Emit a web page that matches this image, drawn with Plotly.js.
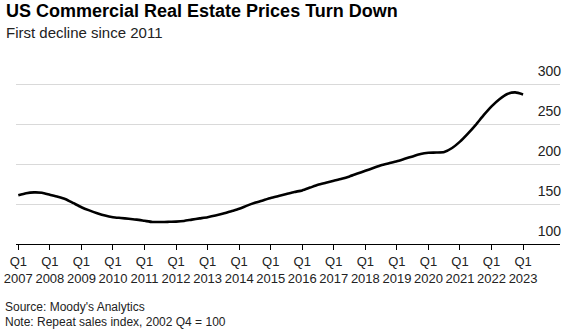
<!DOCTYPE html>
<html>
<head>
<meta charset="utf-8">
<script src="https://cdn.plot.ly/plotly-3.0.1.min.js"></script>
<style>
html,body{margin:0;padding:0;background:#fff;}
#chart{width:568px;height:332px;}
</style>
</head>
<body>
<div id="chart"></div>
<script>
// Quarterly repeat-sales index, 2007 Q1 .. 2023 Q1 (2002 Q4 = 100)
const startYear = 2007;
const priceIndex = [
  161, 163.5, 164.5, 164,        // 2007
  161.5, 159, 156, 151,          // 2008
  146, 142, 138.5, 135.5,        // 2009
  133.5, 132.5, 131.5, 130.5,    // 2010
  129, 127.5, 127.5, 127.7,      // 2011
  128, 128.8, 130.5, 132,        // 2012
  133.5, 135.5, 138, 141,        // 2013
  144, 148, 151.5, 154.5,        // 2014
  157.5, 160, 162.5, 165,        // 2015
  167, 170.5, 174, 176.5,        // 2016
  179, 181.5, 184.5, 188,        // 2017
  191.5, 195, 198.5, 201,        // 2018
  203.5, 206.5, 209.5, 212.5,    // 2019
  214, 214.3, 215, 220,          // 2020
  228, 238, 249, 261,            // 2021
  272, 281, 287.5, 289.5,        // 2022
  287                            // 2023 Q1
];
const tickYears = [2007,2008,2009,2010,2011,2012,2013,2014,2015,2016,2017,2018,2019,2020,2021,2022,2023];
const tickLabels = tickYears.map(y => 'Q1<br>' + y);
const yTicks = [100, 150, 200, 250, 300];

const xs = priceIndex.map((v, i) => startYear + i / 4);

const font = 'Liberation Sans, Arial, Helvetica, sans-serif';

const trace = {
  x: xs,
  y: priceIndex,
  type: 'scatter',
  mode: 'lines',
  line: {color: '#000', width: 2.6, shape: 'spline', smoothing: 0.6},
  hoverinfo: 'skip'
};

const layout = {
  width: 568,
  height: 332,
  margin: {l: 16, r: 8, t: 68, b: 88},
  paper_bgcolor: '#fff',
  plot_bgcolor: '#fff',
  showlegend: false,
  font: {family: font, color: '#222', size: 13},
  xaxis: {
    range: [2006.927, 2024.17],
    tickvals: tickYears,
    ticktext: tickLabels,
    ticks: 'outside',
    ticklen: 5,
    tickwidth: 1,
    tickcolor: '#000',
    showline: true,
    linecolor: '#000',
    linewidth: 1,
    showgrid: false,
    zeroline: false,
    tickfont: {family: font, size: 13, color: '#222'},
    fixedrange: true
  },
  yaxis: {
    range: [100, 320],
    side: 'right',
    tickvals: yTicks,
    ticklabelposition: 'inside top',
    ticklabeloverflow: 'allow',
    ticklabelshift: -3,
    ticklabelstandoff: -4,
    showgrid: true,
    gridcolor: '#d9d9d9',
    gridwidth: 1,
    zeroline: false,
    showline: false,
    ticks: '',
    tickfont: {family: font, size: 14, color: '#222'},
    fixedrange: true
  },
  annotations: [
    {text: '<b>US Commercial Real Estate Prices Turn Down</b>', xref: 'paper', yref: 'paper',
     x: -0.022, y: 1.324, xanchor: 'left', yanchor: 'middle', showarrow: false,
     font: {family: font, size: 18, color: '#000'}},
    {text: 'First decline since 2011', xref: 'paper', yref: 'paper',
     x: -0.022, y: 1.199, xanchor: 'left', yanchor: 'middle', showarrow: false,
     font: {family: font, size: 15, color: '#222'}},
    {text: "Source: Moody's Analytics", xref: 'paper', yref: 'paper',
     x: -0.024, y: -0.358, xanchor: 'left', yanchor: 'middle', showarrow: false,
     font: {family: font, size: 12, color: '#222'}},
    {text: 'Note: Repeat sales index, 2002 Q4 = 100', xref: 'paper', yref: 'paper',
     x: -0.024, y: -0.443, xanchor: 'left', yanchor: 'middle', showarrow: false,
     font: {family: font, size: 12, color: '#222'}}
  ]
};

Plotly.newPlot('chart', [trace], layout, {displayModeBar: false, staticPlot: true});
</script>
</body>
</html>
